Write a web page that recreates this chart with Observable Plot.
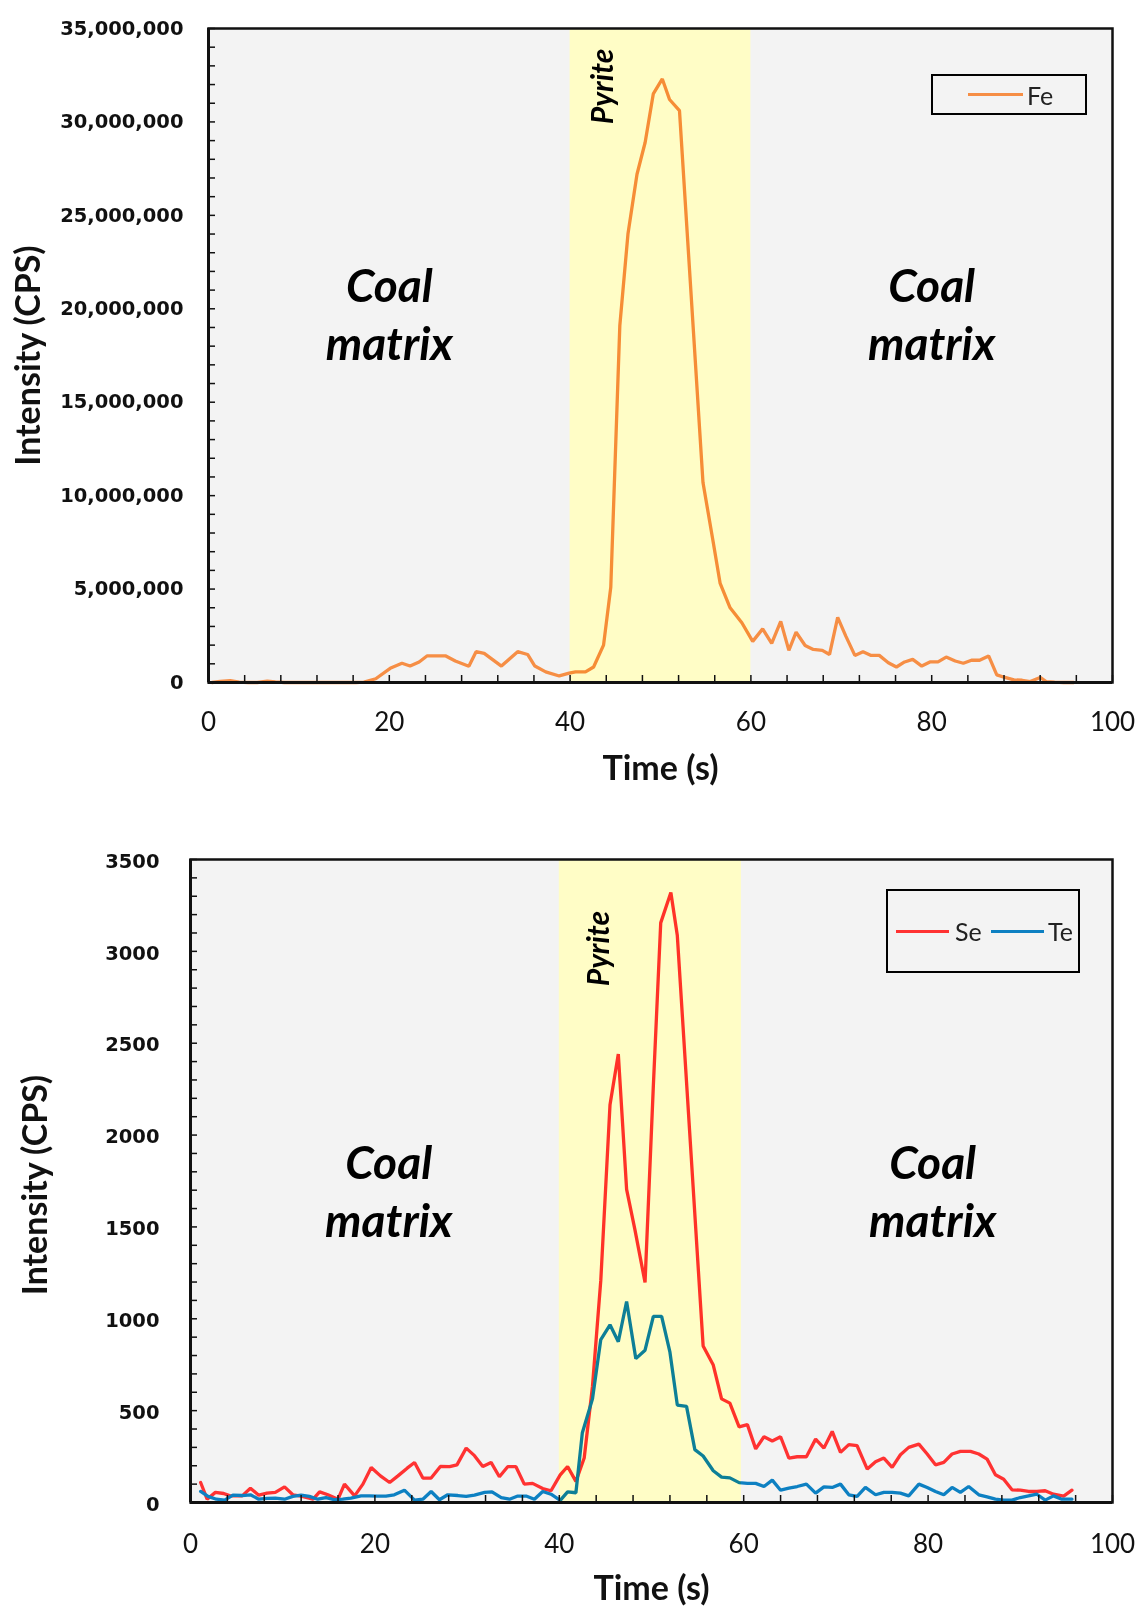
<!DOCTYPE html>
<html>
<head>
<meta charset="utf-8">
<script src="https://cdn.jsdelivr.net/npm/d3@7"></script>
<script src="https://cdn.jsdelivr.net/npm/@observablehq/plot@0.6"></script>
<style>
  body { margin: 0; background: #fff; }
  .chart { position: relative; width: 1137px; }
  .legend { position: absolute; border: 2px solid #000; box-sizing: border-box; font-family: Lato, sans-serif; font-size: 25px; color: #222; }
  .legend .sw { position: absolute; height: 3px; }
  .legend .lb { position: absolute; line-height: 1; transform: translateY(-50%); }
</style>
</head>
<body>
<div id="c1" class="chart"></div>
<div id="c2" class="chart"></div>
<script>
// ---------- Data ----------
const xTickLabels = [0, 20, 40, 60, 80, 100];
const feTickLabels = [0, 5000000, 10000000, 15000000, 20000000, 25000000, 30000000, 35000000];
const seTeTickLabels = [0, 500, 1000, 1500, 2000, 2500, 3000, 3500];

const feTime = [0.4, 1.3, 2.4, 3.4, 4.4, 5.4, 6.5, 7.4, 8.4, 9.4,
  10.4, 11.4, 12.4, 13.4, 14.4, 15.4, 16.3, 17.2, 18.5, 20.1,
  21.4, 22.3, 23.3, 24.2, 26.2, 27.3, 28.8, 29.6, 30.5, 32.4,
  34.2, 35.3, 36.1, 37.3, 38.8, 39.9, 40.6, 41.7, 42.6, 43.7,
  44.5, 45.5, 46.4, 47.4, 48.3, 49.2, 50.2, 51.0, 52.1, 54.7,
  55.8, 56.6, 57.7, 59.0, 60.2, 61.3, 62.3, 63.3, 64.2, 65.0,
  66.0, 66.9, 67.9, 68.7, 69.6, 70.5, 71.5, 72.4, 73.3, 74.2,
  75.2, 76.1, 77.0, 77.9, 78.9, 79.8, 80.7, 81.6, 82.6, 83.5,
  84.4, 85.3, 86.3, 87.2, 88.1, 89.1, 90.0, 90.9, 92.0, 92.7,
  93.6, 94.6, 95.7];
const feValues = [0, 60000, 100000, 20000, 0, 0, 70000, 30000, 0, 0,
  0, 0, 0, 0, 0, 0, 0, 20000, 200000, 760000,
  1030000, 880000, 1100000, 1430000, 1430000, 1150000, 870000, 1650000, 1560000, 880000,
  1650000, 1500000, 880000, 570000, 350000, 500000, 570000, 570000, 830000, 2000000,
  5100000, 19100000, 24000000, 27200000, 28900000, 31500000, 32300000, 31200000, 30600000, 10700000,
  7600000, 5300000, 4000000, 3200000, 2200000, 2870000, 2090000, 3270000, 1720000, 2690000,
  1980000, 1770000, 1720000, 1500000, 3490000, 2480000, 1450000, 1650000, 1450000, 1450000,
  1060000, 830000, 1100000, 1240000, 880000, 1100000, 1100000, 1360000, 1150000, 1030000,
  1190000, 1190000, 1420000, 410000, 270000, 140000, 120000, 50000, 270000, 40000,
  20000, 0, 0];

const seTime = [1.1, 1.8, 2.7, 3.6, 4.3, 5.6, 6.5, 7.4, 8.3, 9.2,
  10.2, 11.1, 12.0, 13.3, 14.0, 14.9, 16.0, 16.7, 17.8, 18.7,
  19.6, 20.6, 21.6, 22.5, 23.5, 24.3, 25.2, 26.1, 27.1, 28.1,
  28.9, 29.9, 30.8, 31.7, 32.6, 33.5, 34.4, 35.3, 36.2, 37.1,
  38.2, 39.1, 40.1, 40.9, 41.8, 42.7, 43.6, 44.5, 45.5, 46.4,
  47.3, 48.2, 49.3, 50.2, 51.0, 52.1, 52.8, 55.6, 56.7, 57.6,
  58.5, 59.5, 60.4, 61.3, 62.2, 63.1, 64.0, 64.9, 65.8, 66.8,
  67.8, 68.7, 69.6, 70.5, 71.4, 72.3, 73.4, 74.3, 75.2, 76.1,
  77.0, 77.9, 79.0, 79.9, 80.8, 81.7, 82.6, 83.5, 84.6, 85.5,
  86.4, 87.3, 88.2, 89.1, 90.0, 90.9, 91.8, 92.7, 93.6, 94.7,
  95.6];
const seValues = [109, 18, 55, 49, 36, 36, 78, 40, 51, 55,
  85, 42, 35, 18, 58, 42, 18, 100, 36, 100,
  191, 145, 109, 145, 187, 218, 133, 133, 196, 195,
  205, 296, 255, 196, 218, 140, 195, 195, 100, 104,
  76, 64, 150, 196, 115, 242, 633, 1209, 2165, 2441,
  1704, 1485, 1198, 2268, 3155, 3320, 3086, 852, 748, 564,
  541, 412, 424, 292, 358, 335, 358, 242, 249, 249,
  345, 296, 387, 273, 315, 309, 182, 222, 242, 191,
  260, 300, 318, 264, 205, 218, 264, 278, 278, 264,
  236, 151, 127, 69, 67, 60, 60, 64, 45, 35,
  67];

const teTime = [1.1, 1.9, 2.8, 3.7, 4.6, 5.6, 6.5, 7.4, 8.3, 9.2,
  10.2, 11.1, 12.0, 12.9, 13.8, 14.7, 15.6, 16.5, 17.4, 18.5,
  19.4, 20.3, 21.2, 22.1, 23.2, 24.3, 25.2, 26.1, 27.0, 27.9,
  29.0, 29.9, 30.8, 31.9, 32.7, 33.7, 34.6, 35.5, 36.4, 37.3,
  38.2, 39.1, 40.1, 40.9, 41.8, 42.5, 43.6, 44.5, 45.5, 46.4,
  47.3, 48.3, 49.3, 50.2, 51.1, 52.0, 52.8, 53.8, 54.7, 55.6,
  56.7, 57.6, 58.5, 59.5, 60.4, 61.3, 62.2, 63.1, 64.0, 64.9,
  65.8, 66.8, 67.8, 68.7, 69.6, 70.5, 71.4, 72.3, 73.2, 74.3,
  75.2, 76.1, 77.0, 77.9, 79.0, 79.9, 80.8, 81.7, 82.6, 83.5,
  84.4, 85.5, 86.4, 87.3, 88.2, 89.1, 90.0, 90.9, 91.8, 92.7,
  93.6, 94.5, 95.6];
const teValues = [60, 33, 18, 13, 40, 38, 42, 18, 22, 24,
  18, 33, 40, 33, 18, 27, 15, 18, 24, 36,
  36, 35, 35, 42, 67, 13, 18, 60, 15, 42,
  38, 33, 40, 55, 58, 27, 18, 35, 35, 18,
  60, 45, 12, 58, 53, 380, 564, 887, 967, 875,
  1094, 783, 829, 1013, 1013, 818, 530, 523, 288, 253,
  173, 138, 134, 108, 104, 104, 87, 122, 67, 78,
  87, 100, 51, 85, 82, 100, 42, 33, 82, 42,
  55, 55, 51, 36, 100, 82, 60, 42, 82, 55,
  87, 42, 31, 18, 13, 13, 27, 36, 45, 13,
  36, 18, 18];

const regionLabels = ["Coal\nmatrix", "Pyrite"];
const seriesNames = ["Fe", "Se", "Te"];
const seriesColors = ["#f68e45", "#ff3232", "#0d80c2"];

// ---------- Chart builder ----------
function chart(o) {
  const toRows = (t, v) => t.map((d, i) => ({t: d, v: v[i]}));
  const grey = [{x1: 0, x2: o.band[0]}, {x1: o.band[1], x2: 100}];
  const bandRows = [{x1: o.band[0], x2: o.band[1]}];
  return Plot.plot({
    width: 1137, height: o.height,
    marginTop: o.mt, marginBottom: o.mb, marginLeft: o.ml, marginRight: 25,
    x: {domain: [0, 100]},
    y: {domain: [0, o.yMax]},
    style: {background: "white", overflow: "visible"},
    marks: [
      Plot.rect(grey, {x1: "x1", x2: "x2", y1: 0, y2: o.yMax, fill: "#f3f3f3"}),
      ...o.series.map(s => Plot.line(toRows(s.t, s.v), {x: "t", y: "v", stroke: s.color, strokeWidth: 3.3, strokeLinejoin: "miter"})),
      Plot.rect(bandRows, {x1: "x1", x2: "x2", y1: 0, y2: o.yMax, fill: "#fffdc6", mixBlendMode: "multiply"}),
      Plot.text(o.coal, {x: "x", y: "y", text: "text", fontFamily: "Lato", fontWeight: "bold", fontStyle: "italic", fontSize: 46, lineHeight: 1.27, fill: "#000"}),
      Plot.text(o.pyrite, {x: "x", y: "y", text: "text", rotate: -90, fontFamily: "Lato", fontWeight: "bold", fontStyle: "italic", fontSize: 30, fill: "#000"}),
      // minor / major inward ticks
      Plot.axisX({ticks: d3.range(0, 101, 4), tickSize: 7, dy: -7, fill: "none", stroke: "#111", strokeWidth: 1.5}),
      Plot.axisY({ticks: d3.range(0, o.yMax + 1, o.yMinor), tickSize: 7, dx: 7, fill: "none", stroke: "#111", strokeWidth: 1.5}),
      // tick labels
      Plot.axisX({ticks: xTickLabels, tickSize: 0, tickPadding: o.xPad, stroke: "none", fill: "#111", label: null,
        fontFamily: "Lato", fontSize: 26, tickFormat: d => String(d)}),
      Plot.axisY({ticks: o.yLabels, tickSize: 0, tickPadding: o.yPad, stroke: "none", fill: "#111", label: null,
        fontFamily: "DejaVu Sans", fontWeight: "bold", fontSize: 19.5, tickFormat: o.yFmt, dy: o.yLabDy || 0}),
      Plot.frame({stroke: "#111", strokeWidth: 2.5}),
      Plot.ruleX([0], {stroke: "#111", strokeWidth: 3}),
      Plot.ruleY([0], {stroke: "#111", strokeWidth: 3}),
      // axis titles
      Plot.text(["Time (s)"], {text: d => d, frameAnchor: "bottom", lineAnchor: "middle", textAnchor: "middle", dy: o.xTitleDy,
        fontFamily: "Lato", fontWeight: "bold", fontSize: 34, fill: "#111"}),
      Plot.text(["Intensity (CPS)"], {text: d => d, frameAnchor: "left", textAnchor: "middle", lineAnchor: "middle",
        dx: o.yTitleDx, dy: o.yTitleDy || 0, rotate: -90, fontFamily: "Lato", fontWeight: "bold", fontSize: 34, fill: "#111"})
    ]
  });
}

function legend(container, box, items) {
  const lg = document.createElement("div");
  lg.className = "legend";
  Object.assign(lg.style, {left: box.left + "px", top: box.top + "px", width: box.width + "px", height: box.height + "px"});
  items.forEach(it => {
    const sw = document.createElement("div");
    sw.className = "sw";
    Object.assign(sw.style, {left: it.sx + "px", width: it.sw + "px", top: (box.height / 2 - 3.5) + "px", background: it.color});
    const lb = document.createElement("div");
    lb.className = "lb";
    lb.textContent = it.name;
    Object.assign(lb.style, {left: it.lx + "px", top: (box.height / 2 - 2) + "px"});
    lg.appendChild(sw); lg.appendChild(lb);
  });
  container.appendChild(lg);
}

const c1 = document.getElementById("c1");
c1.appendChild(chart({
  height: 800, mt: 28, mb: 118, ml: 208, yMax: 35000000, yMinor: 1000000,
  yLabels: feTickLabels, yFmt: d3.format(","), band: [40, 60],
  series: [{t: feTime, v: feValues, color: seriesColors[0]}],
  coal: [{x: 20, y: 19800000, text: regionLabels[0]}, {x: 80, y: 19800000, text: regionLabels[0]}],
  pyrite: [{x: 43.7, y: 31900000, text: regionLabels[1]}],
  xPad: 30, yPad: 25, xTitleDy: 87, yTitleDx: -179
}));
legend(c1, {left: 931, top: 74, width: 156, height: 41},
  [{name: seriesNames[0], color: seriesColors[0], sx: 35, sw: 55, lx: 94}]);

const c2 = document.getElementById("c2");
c2.appendChild(chart({
  height: 807, mt: 59, mb: 105, ml: 190, yMax: 3500, yMinor: 100,
  yLabels: seTeTickLabels, yFmt: d => String(d), band: [40, 59.75],
  series: [{t: seTime, v: seValues, color: seriesColors[1]}, {t: teTime, v: teValues, color: seriesColors[2]}],
  coal: [{x: 21.5, y: 1705, text: regionLabels[0]}, {x: 80.5, y: 1705, text: regionLabels[0]}],
  pyrite: [{x: 44.4, y: 3015, text: regionLabels[1]}],
  xPad: 32, yPad: 31, xTitleDy: 87, yTitleDx: -154, yTitleDy: 4, yLabDy: 2
}));
legend(c2, {left: 886, top: 89, width: 194, height: 84},
  [{name: seriesNames[1], color: seriesColors[1], sx: 8, sw: 53, lx: 67},
   {name: seriesNames[2], color: seriesColors[2], sx: 103, sw: 53, lx: 160}]);
</script>
</body>
</html>
